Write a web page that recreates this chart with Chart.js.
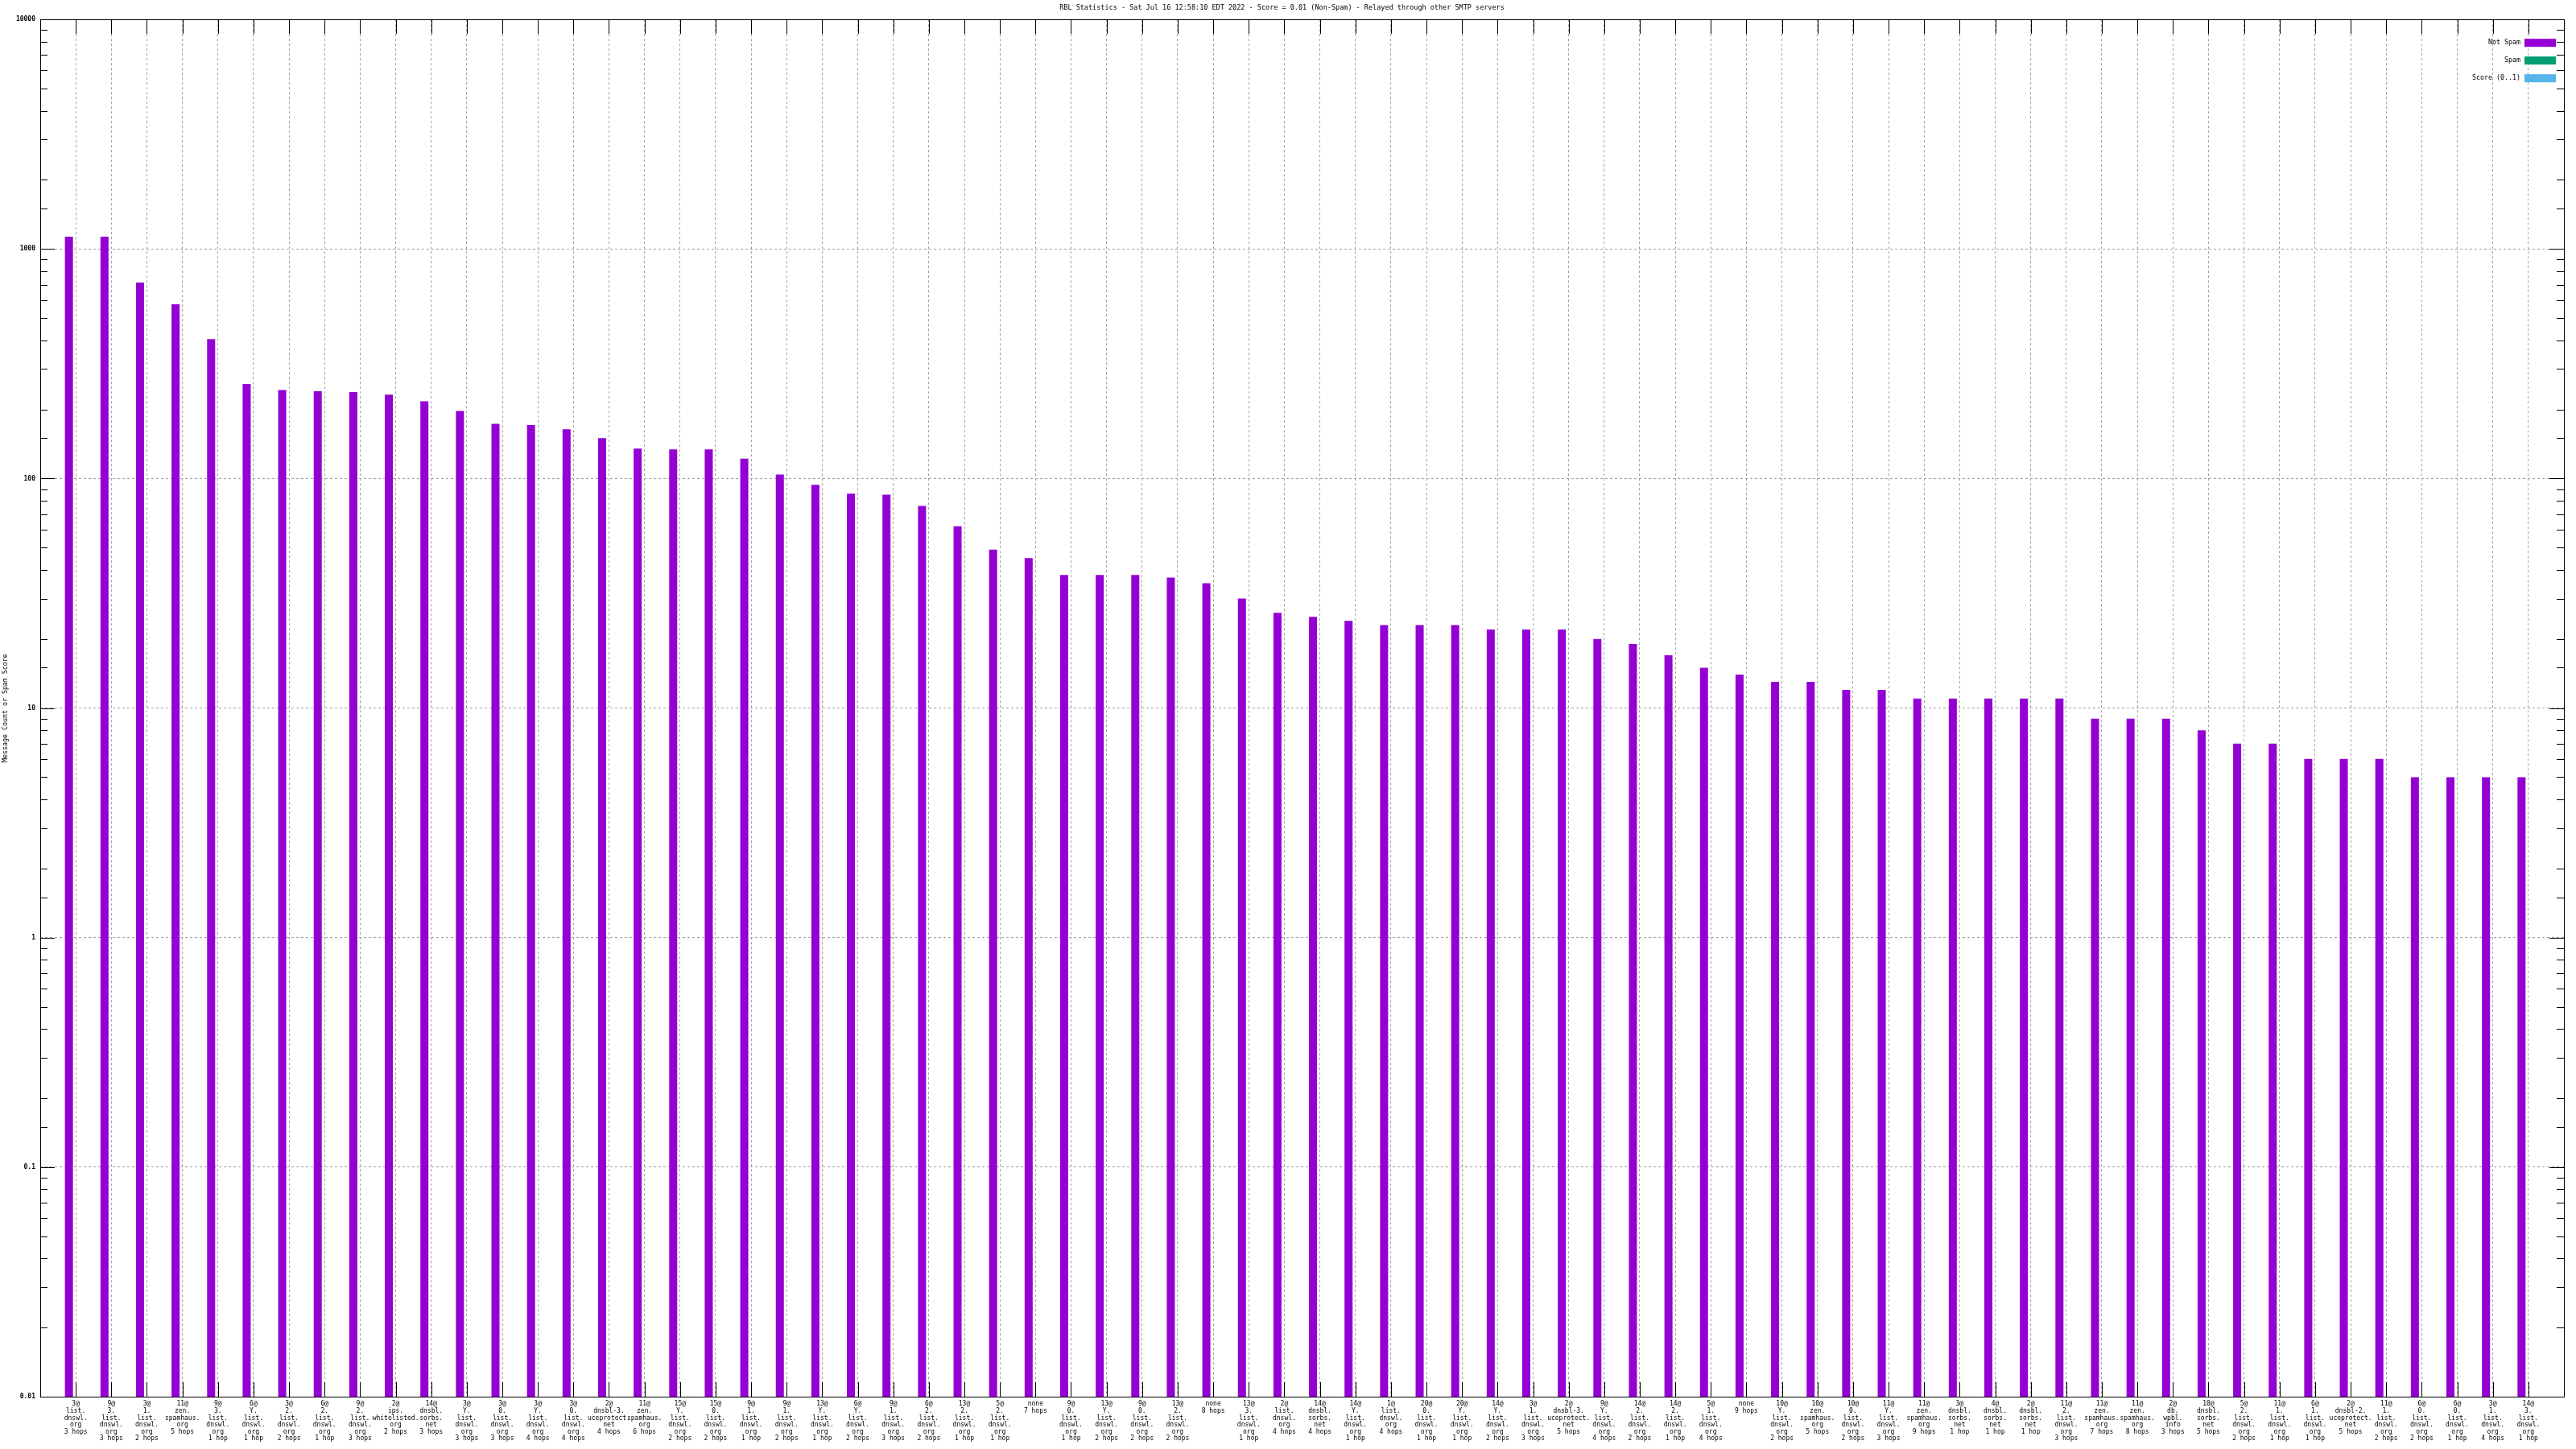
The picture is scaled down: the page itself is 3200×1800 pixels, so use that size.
<!DOCTYPE html>
<html>
<head>
<meta charset="utf-8">
<title>RBL Statistics</title>
<script src="https://cdn.jsdelivr.net/npm/chart.js@4.4.1/dist/chart.umd.min.js"></script>
<style>
  html, body { margin: 0; padding: 0; background: #fff; }
  #wrap { width: 3200px; height: 1800px; }
</style>
</head>
<body>
<div id="wrap"><canvas id="chart"></canvas></div>
<script>
// category labels (one array per bar, one entry per line)
const categories = [
  ['3@', 'list.', 'dnswl.', 'org', '3 hops'],
  ['9@', '3.', 'list.', 'dnswl.', 'org', '3 hops'],
  ['3@', '1.', 'list.', 'dnswl.', 'org', '2 hops'],
  ['11@', 'zen.', 'spamhaus.', 'org', '5 hops'],
  ['9@', '3.', 'list.', 'dnswl.', 'org', '1 hop'],
  ['6@', 'Y.', 'list.', 'dnswl.', 'org', '1 hop'],
  ['3@', '2.', 'list.', 'dnswl.', 'org', '2 hops'],
  ['6@', '2.', 'list.', 'dnswl.', 'org', '1 hop'],
  ['9@', '2.', 'list.', 'dnswl.', 'org', '3 hops'],
  ['2@', 'ips.', 'whitelisted.', 'org', '2 hops'],
  ['14@', 'dnsbl.', 'sorbs.', 'net', '3 hops'],
  ['3@', 'Y.', 'list.', 'dnswl.', 'org', '3 hops'],
  ['3@', '0.', 'list.', 'dnswl.', 'org', '3 hops'],
  ['3@', 'Y.', 'list.', 'dnswl.', 'org', '4 hops'],
  ['3@', '0.', 'list.', 'dnswl.', 'org', '4 hops'],
  ['2@', 'dnsbl-3.', 'uceprotect.', 'net', '4 hops'],
  ['11@', 'zen.', 'spamhaus.', 'org', '6 hops'],
  ['15@', 'Y.', 'list.', 'dnswl.', 'org', '2 hops'],
  ['15@', '0.', 'list.', 'dnswl.', 'org', '2 hops'],
  ['9@', '1.', 'list.', 'dnswl.', 'org', '1 hop'],
  ['9@', '1.', 'list.', 'dnswl.', 'org', '2 hops'],
  ['13@', 'Y.', 'list.', 'dnswl.', 'org', '1 hop'],
  ['6@', 'Y.', 'list.', 'dnswl.', 'org', '2 hops'],
  ['9@', '1.', 'list.', 'dnswl.', 'org', '3 hops'],
  ['6@', '2.', 'list.', 'dnswl.', 'org', '2 hops'],
  ['13@', '2.', 'list.', 'dnswl.', 'org', '1 hop'],
  ['5@', '2.', 'list.', 'dnswl.', 'org', '1 hop'],
  ['none', '7 hops'],
  ['9@', '0.', 'list.', 'dnswl.', 'org', '1 hop'],
  ['13@', 'Y.', 'list.', 'dnswl.', 'org', '2 hops'],
  ['9@', '0.', 'list.', 'dnswl.', 'org', '2 hops'],
  ['13@', '2.', 'list.', 'dnswl.', 'org', '2 hops'],
  ['none', '8 hops'],
  ['13@', '3.', 'list.', 'dnswl.', 'org', '1 hop'],
  ['2@', 'list.', 'dnswl.', 'org', '4 hops'],
  ['14@', 'dnsbl.', 'sorbs.', 'net', '4 hops'],
  ['14@', 'Y.', 'list.', 'dnswl.', 'org', '1 hop'],
  ['1@', 'list.', 'dnswl.', 'org', '4 hops'],
  ['20@', '0.', 'list.', 'dnswl.', 'org', '1 hop'],
  ['20@', 'Y.', 'list.', 'dnswl.', 'org', '1 hop'],
  ['14@', 'Y.', 'list.', 'dnswl.', 'org', '2 hops'],
  ['3@', '1.', 'list.', 'dnswl.', 'org', '3 hops'],
  ['2@', 'dnsbl-3.', 'uceprotect.', 'net', '5 hops'],
  ['9@', 'Y.', 'list.', 'dnswl.', 'org', '4 hops'],
  ['14@', '2.', 'list.', 'dnswl.', 'org', '2 hops'],
  ['14@', '2.', 'list.', 'dnswl.', 'org', '1 hop'],
  ['5@', '1.', 'list.', 'dnswl.', 'org', '4 hops'],
  ['none', '9 hops'],
  ['10@', 'Y.', 'list.', 'dnswl.', 'org', '2 hops'],
  ['10@', 'zen.', 'spamhaus.', 'org', '5 hops'],
  ['10@', '0.', 'list.', 'dnswl.', 'org', '2 hops'],
  ['11@', 'Y.', 'list.', 'dnswl.', 'org', '3 hops'],
  ['11@', 'zen.', 'spamhaus.', 'org', '9 hops'],
  ['3@', 'dnsbl.', 'sorbs.', 'net', '1 hop'],
  ['4@', 'dnsbl.', 'sorbs.', 'net', '1 hop'],
  ['2@', 'dnsbl.', 'sorbs.', 'net', '1 hop'],
  ['11@', '2.', 'list.', 'dnswl.', 'org', '3 hops'],
  ['11@', 'zen.', 'spamhaus.', 'org', '7 hops'],
  ['11@', 'zen.', 'spamhaus.', 'org', '8 hops'],
  ['2@', 'db.', 'wpbl.', 'info', '3 hops'],
  ['10@', 'dnsbl.', 'sorbs.', 'net', '5 hops'],
  ['5@', '2.', 'list.', 'dnswl.', 'org', '2 hops'],
  ['11@', '1.', 'list.', 'dnswl.', 'org', '1 hop'],
  ['6@', '1.', 'list.', 'dnswl.', 'org', '1 hop'],
  ['2@', 'dnsbl-2.', 'uceprotect.', 'net', '5 hops'],
  ['11@', '1.', 'list.', 'dnswl.', 'org', '2 hops'],
  ['6@', '0.', 'list.', 'dnswl.', 'org', '2 hops'],
  ['6@', '0.', 'list.', 'dnswl.', 'org', '1 hop'],
  ['3@', '1.', 'list.', 'dnswl.', 'org', '4 hops'],
  ['14@', '3.', 'list.', 'dnswl.', 'org', '1 hop']
];

const notSpamCounts = [
  1132, 1132, 714, 574, 405, 258, 243, 240, 238, 232,
  217, 197, 173, 171, 164, 150, 135, 134, 134, 122,
  104, 94, 86, 85, 76, 62, 49, 45, 38, 38,
  38, 37, 35, 30, 26, 25, 24, 23, 23, 23,
  22, 22, 22, 20, 19, 17, 15, 14, 13, 13,
  12, 12, 11, 11, 11, 11, 11, 9, 9, 9,
  8, 7, 7, 6, 6, 6, 5, 5, 5, 5
];
// nothing of these two series shows above the 0.01 floor
const spamCounts = [];
const spamScores = [];

const yTickValues = [0.01, 0.1, 1, 10, 100, 1000, 10000];

const chartTitle = 'RBL Statistics - Sat Jul 16 12:58:10 EDT 2022 - Score = 0.01 (Non-Spam) - Relayed through other SMTP servers';
const mono = "'DejaVu Sans Mono', monospace";

const isDecade = (v) => yTickValues.some(d => Math.abs(v - d) / d < 1e-6);
const decadeLabel = (v) => {
  const e = Math.round(Math.log10(v));
  return e < 0 ? Math.pow(10, e).toFixed(-e) : String(Math.pow(10, e));
};

// inward ticks, the box and the legend, drawn the gnuplot way
const frame = {
  id: 'frame',
  afterDatasetsDraw(chart) {
    const { ctx, chartArea: a, scales: { x, y } } = chart;
    ctx.save();
    ctx.strokeStyle = '#000';
    ctx.lineWidth = 1;
    ctx.beginPath();
    x.ticks.forEach(t => {
      const px = Math.round(x.getPixelForValue(t.value)) + 0.5;
      ctx.moveTo(px, a.bottom); ctx.lineTo(px, a.bottom - 18);
      ctx.moveTo(px, a.top); ctx.lineTo(px, a.top + 18);
    });
    y.ticks.forEach(t => {
      const py = Math.round(y.getPixelForValue(t.value)) + 0.5;
      const len = isDecade(t.value) ? 18 : 9;
      ctx.moveTo(a.left, py); ctx.lineTo(a.left + len, py);
      ctx.moveTo(a.right, py); ctx.lineTo(a.right - len, py);
    });
    ctx.stroke();
    ctx.strokeRect(Math.round(a.left) + 0.5, Math.round(a.top) + 0.5,
      Math.round(a.width), Math.round(a.height));

    // legend
    ctx.font = '8.3px ' + mono;
    ctx.fillStyle = '#000';
    ctx.textAlign = 'right';
    ctx.textBaseline = 'middle';
    chart.data.datasets.forEach((ds, i) => {
      const cy = a.top + 29 + i * 22;
      ctx.fillStyle = ds.backgroundColor;
      ctx.fillRect(a.right - 49, cy - 5, 39, 10);
      ctx.fillStyle = '#000';
      ctx.fillText(ds.label, a.right - 54, cy);
    });
    ctx.restore();
  }
};

new Chart(document.querySelector('#chart').getContext('2d'), {
  type: 'bar',
  data: {
    datasets: [
      {
        label: 'Not Spam',
        data: notSpamCounts.map((v, i) => ({ x: i + 1, y: v })),
        backgroundColor: '#9400d3'
      },
      {
        label: 'Spam',
        data: spamCounts.map((v, i) => ({ x: i + 1, y: v })),
        backgroundColor: '#009e73'
      },
      {
        label: 'Score (0..1)',
        data: spamScores.map((v, i) => ({ x: i + 1, y: v })),
        backgroundColor: '#56b4e9'
      }
    ]
  },
  options: {
    responsive: true,
    maintainAspectRatio: false,
    devicePixelRatio: 1,
    animation: false,
    categoryPercentage: 0.578,
    barPercentage: 1.176,
    layout: { padding: { left: 0, right: 15, top: 0, bottom: 0 } },
    plugins: {
      legend: { display: false },
      tooltip: { enabled: false },
      title: {
        display: true,
        text: chartTitle,
        color: '#000',
        font: { family: mono, size: 8.5, weight: 'normal', lineHeight: 1.2 },
        padding: { top: 5, bottom: 9 }
      }
    },
    scales: {
      x: {
        type: 'linear',
        offset: false,
        min: 0,
        max: categories.length + 1,
        afterBuildTicks: (scale) => {
          scale.ticks = scale.ticks.filter(t => t.value >= 1 && t.value <= categories.length);
        },
        afterFit: (scale) => { scale.height = 65; },
        ticks: {
          stepSize: 1,
          autoSkip: false,
          maxRotation: 0,
          minRotation: 0,
          padding: 5,
          color: '#000',
          font: { family: mono, size: 8, lineHeight: 1.075 },
          callback: (v) => categories[v - 1] || ''
        },
        grid: { color: '#a0a0a0', lineWidth: 1, drawTicks: false, offset: false },
        border: { display: false, dash: [3, 3] }
      },
      y: {
        type: 'logarithmic',
        min: 0.01,
        max: 10000,
        afterFit: (scale) => { scale.width = 50; },
        title: {
          display: true,
          text: 'Message Count or Spam Score',
          color: '#000',
          font: { family: mono, size: 8.3 },
          padding: { top: 2, bottom: 0 }
        },
        ticks: {
          autoSkip: false,
          padding: 6,
          color: '#000',
          font: { family: mono, size: 8, weight: 'bold' },
          callback: (v) => isDecade(v) ? decadeLabel(v) : ''
        },
        grid: {
          color: (c) => (c.tick && isDecade(c.tick.value)) ? '#a0a0a0' : 'rgba(0,0,0,0)',
          lineWidth: 1,
          drawTicks: false
        },
        border: { display: false, dash: [3, 3] }
      }
    }
  },
  plugins: [frame]
});
</script>
</body>
</html>
